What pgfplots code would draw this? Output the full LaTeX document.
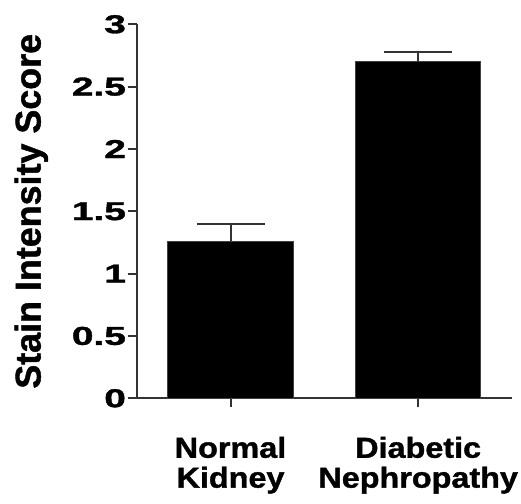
\documentclass[border=0pt]{standalone}
\usepackage{pgfplots}
\pgfplotsset{compat=1.18}
\usepackage{graphicx}
\usepackage{fontspec}
\setmainfont{Liberation Sans}[BoldFeatures={FakeBold=1.2}]
\begin{document}
\begin{tikzpicture}[x=1bp,y=1bp]
\begin{axis}[
  at={(0,0)}, anchor=south west,
  scale only axis,
  width=375.3bp, height=374bp,
  xmin=-0.5, xmax=1.5,
  ymin=0, ymax=3,
  axis lines*=left,
  axis line style={line width=2bp, black!80},
  tick style={line width=2bp, black!80},
  tick align=outside,
  major tick length=9bp,
  xtick={0,1},
  xticklabels={{Normal\\Kidney},{Diabetic\\Nephropathy}},
  xticklabel style={align=center, font=\fontsize{29}{30}\selectfont\bfseries, xscale=1.12, yshift=-26bp},
  ytick={0,0.5,1,1.5,2,2.5,3},
  yticklabels={0,0.5,1,1.5,2,2.5,3},
  yticklabel style={font=\fontsize{26}{27}\selectfont\bfseries, xscale=1.5, inner sep=1bp},
  /pgf/number format/assume math mode=true,
  ylabel={Stain Intensity Score},
  ylabel style={font=\fontsize{36}{38}\selectfont\bfseries, at={(axis description cs:-0.326,0.5)}, anchor=north, inner sep=0pt},
  clip=false,
]
\addplot[ybar, bar width=0.668, fill=black, draw=black!75, line width=1bp,
  error bars/.cd, y dir=plus, y explicit,
  error bar style={line width=2bp, black!80},
  error mark options={rotate=90, mark size=34bp, line width=2bp, black!80}]
  coordinates {(0,1.26) +- (0,0.135) (1,2.70) +- (0,0.075)};
\end{axis}
\pgfresetboundingbox
\path (-136.7bp,-105.7bp) rectangle (384.3bp,398.3bp);
\end{tikzpicture}
\end{document}
